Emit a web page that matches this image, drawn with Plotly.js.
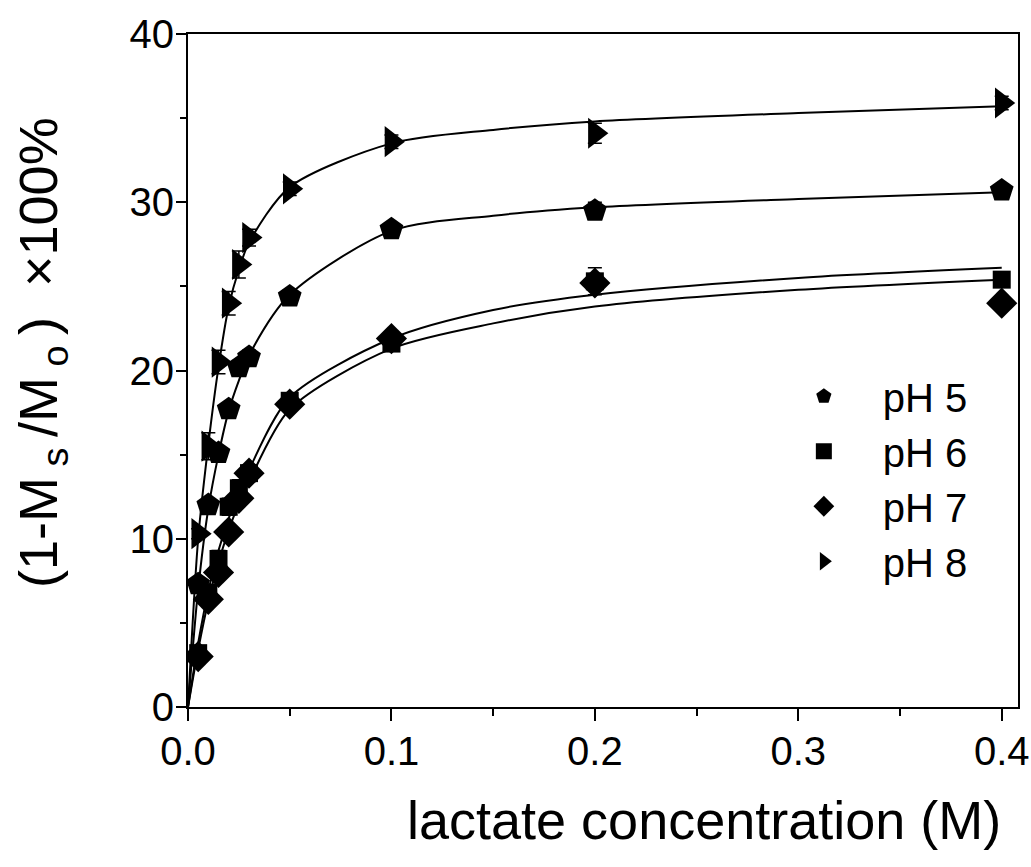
<!DOCTYPE html>
<html>
<head>
<meta charset="utf-8">
<script src="https://cdn.plot.ly/plotly-3.0.1.min.js"></script>
<style>html,body{margin:0;padding:0;background:#fff;}#chart{width:1031px;height:867px;}</style>
</head>
<body>
<div id="chart"></div>
<script>
// Measured concentrations (M)
var conc = [0.005, 0.01, 0.015, 0.02, 0.025, 0.03, 0.05, 0.1, 0.2, 0.4];

// Data points
var pH5 = [7.3, 12.0, 15.1, 17.7, 20.2, 20.8, 24.4, 28.4, 29.5, 30.7];
var pH6 = [3.2, 6.8, 8.8, 11.9, 13.0, 13.9, 18.2, 21.6, 25.3, 25.4];
var pH7 = [3.0, 6.4, 8.0, 10.4, 12.4, 13.9, 18.0, 21.9, 25.2, 24.0];
var pH8 = [10.3, 15.5, 20.5, 24.0, 26.3, 27.9, 30.8, 33.6, 34.1, 35.9];

// Error bars
var err5 = [0.3, 0.3, 0.3, 0.3, 0.4, 0.4, 0.4, 0.3, 0.5, 0.3];
var err6 = [0.3, 0.4, 0.5, 0.5, 0.5, 0.5, 0.4, 0.4, 0.8, 0.4];
var err7 = [0.3, 0.3, 0.4, 0.4, 0.4, 0.4, 0.4, 0.4, 0.4, 0.3];
var err8 = [0.3, 0.8, 0.7, 0.7, 0.8, 0.5, 0.4, 0.4, 0.6, 0.4];

// Fitted curves at these concentrations
var fitX  = [0, 0.005, 0.01, 0.015, 0.02, 0.025, 0.03, 0.05, 0.1, 0.15, 0.2, 0.3, 0.4];
var fit5  = [0, 7.0, 11.8, 15.0, 17.6, 19.4, 20.9, 24.5, 28.3, 29.2, 29.7, 30.2, 30.6];
var fit6  = [0, 3.4, 6.3, 8.6, 10.5, 12.1, 13.4, 17.7, 21.3, 22.8, 23.8, 24.8, 25.4];
var fit7  = [0, 3.8, 6.9, 9.3, 11.2, 12.8, 14.1, 18.4, 21.9, 23.6, 24.5, 25.5, 26.1];
var fit8  = [0, 10.0, 15.6, 20.2, 23.8, 26.0, 27.6, 30.9, 33.5, 34.3, 34.8, 35.3, 35.7];

var seriesNames = ['pH 5', 'pH 6', 'pH 7', 'pH 8'];
var xTickVals = [0, 0.1, 0.2, 0.3, 0.4];
var xTickText = ['0.0', '0.1', '0.2', '0.3', '0.4'];
var yTickVals = [0, 10, 20, 30, 40];
var xTitle = 'lactate concentration (M)';
var yTitle = '(1-M<sub>\u00a0s\u00a0</sub>/M<sub>\u00a0o\u00a0</sub>)\u00a0\u00a0×100%';

var FONT = 'Liberation Sans, Arial, sans-serif';

function fitTrace(y) {
  return {x: fitX, y: y, mode: 'lines', type: 'scatter', showlegend: false, hoverinfo: 'skip',
          line: {color: '#000', width: 2, shape: 'spline', smoothing: 0.8}};
}
function pointTrace(name, y, err, symbol, size) {
  return {x: conc, y: y, name: name, mode: 'markers', type: 'scatter',
          marker: {symbol: symbol, size: size, color: '#000', line: {width: 0}},
          error_y: {type: 'data', array: err, visible: true, color: '#000', thickness: 1.5, width: 7}};
}

var traces = [
  fitTrace(fit5), fitTrace(fit6), fitTrace(fit7), fitTrace(fit8),
  pointTrace(seriesNames[0], pH5, err5, 'pentagon', 25),
  pointTrace(seriesNames[1], pH6, err6, 'square', 18),
  pointTrace(seriesNames[2], pH7, err7, 'diamond', 24),
  pointTrace(seriesNames[3], pH8, err8, 'triangle-right', 27)
];

var layout = {
  width: 1031, height: 867,
  margin: {l: 188, r: 13, t: 34, b: 160},
  paper_bgcolor: '#fff', plot_bgcolor: '#fff',
  font: {family: FONT, color: '#000', size: 40},
  showlegend: true,
  legend: {x: 0.695, y: 0.51, xanchor: 'left', yanchor: 'top', bgcolor: 'rgba(0,0,0,0)',
           font: {family: FONT, size: 40, color: '#000'}, itemwidth: 108, tracegroupgap: 0},
  xaxis: {
    range: [0, 0.408], showgrid: false, zeroline: false,
    showline: true, linecolor: '#000', linewidth: 2, mirror: true,
    ticks: 'outside', ticklen: 12, tickwidth: 2, tickcolor: '#000',
    tickvals: xTickVals, ticktext: xTickText, ticklabelstandoff: -4,
    tickfont: {family: FONT, size: 40, color: '#000'},
    minor: {dtick: 0.05, ticks: 'outside', ticklen: 7, tickwidth: 2, tickcolor: '#000', showgrid: false}
  },
  yaxis: {
    range: [0, 40], showgrid: false, zeroline: false,
    showline: true, linecolor: '#000', linewidth: 2, mirror: true,
    ticks: 'outside', ticklen: 10, tickwidth: 2, tickcolor: '#000',
    tickvals: yTickVals, ticklabelstandoff: -6,
    tickfont: {family: FONT, size: 40, color: '#000'},
    minor: {dtick: 5, ticks: 'outside', ticklen: 6, tickwidth: 2, tickcolor: '#000', showgrid: false}
  },
  annotations: [
    {text: xTitle, xref: 'paper', yref: 'paper', x: 0.6217, y: -0.168, xanchor: 'center', yanchor: 'middle',
     showarrow: false, font: {family: FONT, size: 54, color: '#000'}},
    {text: yTitle, xref: 'paper', yref: 'paper', x: -0.176, y: 0.5275, xanchor: 'center', yanchor: 'middle',
     textangle: -90, showarrow: false, font: {family: FONT, size: 54, color: '#000'}}
  ]
};

Plotly.newPlot('chart', traces, layout, {staticPlot: true, displayModeBar: false});
</script>
</body>
</html>
